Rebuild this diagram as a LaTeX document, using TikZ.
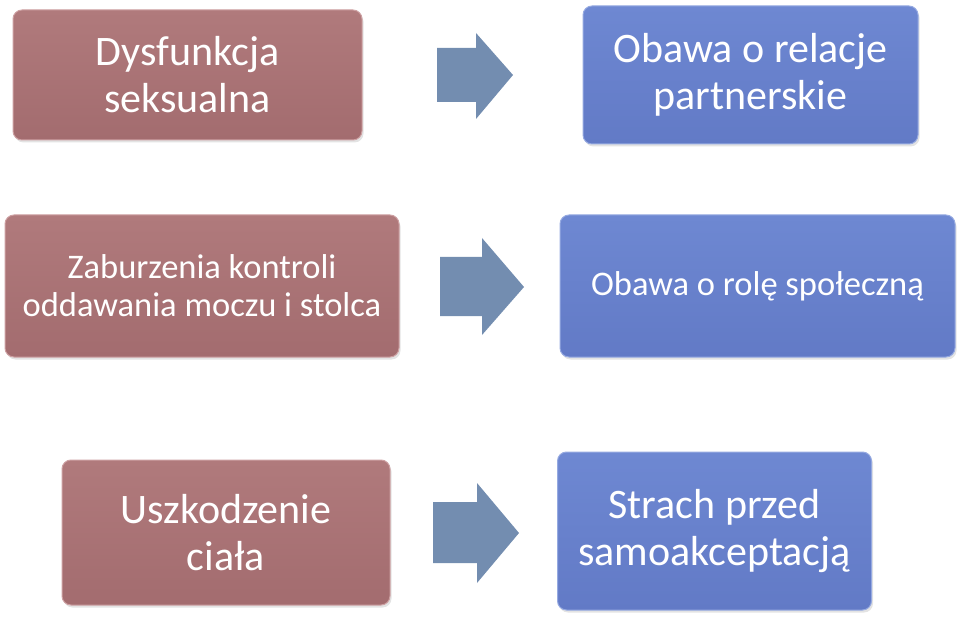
\documentclass[tikz,border=0pt]{standalone}
\usepackage{fontspec}
\setmainfont{Carlito}
\usetikzlibrary{shadows}
\definecolor{redtop}{RGB}{176,122,124}
\definecolor{redbot}{RGB}{163,108,111}
\definecolor{redline}{RGB}{205,160,162}
\definecolor{bluetop}{RGB}{110,136,210}
\definecolor{bluebot}{RGB}{98,122,198}
\definecolor{blueline}{RGB}{150,170,225}
\definecolor{arrowc}{RGB}{115,141,176}
\tikzset{
  box/.style={rectangle, rounded corners=9pt, line width=1pt, text=white,
    align=center, inner sep=0pt,
    drop shadow={opacity=0.22, shadow xshift=1.5pt, shadow yshift=-2.5pt}},
  redbox/.style={box, draw=redline, top color=redtop, bottom color=redbot},
  bluebox/.style={box, draw=blueline, top color=bluetop, bottom color=bluebot},
  bigtext/.style={font=\fontsize{42}{47}\selectfont},
  midtext/.style={font=\fontsize{34.5}{38}\selectfont},
  fatarrow/.style={fill=arrowc, draw=none}
}
\newcommand{\fatarr}[8]{%
  \coordinate (#1) at (#2,#8);
  \fill[fatarrow] (#2,#3) -- (#5,#3) -- (#5,#6) -- (#7,#8) -- (#5,#6+#8+#8-#6-#6) -- (#5,#4) -- (#2,#4) -- cycle;}
\begin{document}
\begin{tikzpicture}[x=1pt,y=-1pt]
\useasboundingbox (0,0) rectangle (960,617);
% boxes
\node[redbox, bigtext, minimum width=349pt, minimum height=130pt] (b1) at (187.5,75) {Dysfunkcja\\seksualna};
\node[bluebox, bigtext, minimum width=335pt, minimum height=138pt] (b2) at (750.5,75) {Obawa o relacje\\partnerskie};
\node[redbox, midtext, minimum width=394pt, minimum height=142pt] (b3) at (202,286) {Zaburzenia kontroli\\oddawania moczu i stolca};
\node[bluebox, midtext, minimum width=395pt, minimum height=142pt] (b4) at (757.5,286) {Obawa o rolę społeczną};
\node[redbox, bigtext, minimum width=328pt, minimum height=145pt] (b5) at (226,532.5) {Uszkodzenie\\ciała};
\node[bluebox, bigtext, minimum width=314pt, minimum height=158pt] (b6) at (714.5,531) {Strach przed\\samoakceptacją};
% arrows
\fill[fatarrow] (437,48) -- (476,48) -- (476,33) -- (513,75) -- (476,119) -- (476,102) -- (437,102) -- cycle;
\fill[fatarrow] (440,257) -- (482,257) -- (482,238) -- (524,287) -- (482,335) -- (482,316) -- (440,316) -- cycle;
\fill[fatarrow] (433,502) -- (477,502) -- (477,483) -- (519,533) -- (477,583) -- (477,563) -- (433,563) -- cycle;
\end{tikzpicture}
\end{document}
